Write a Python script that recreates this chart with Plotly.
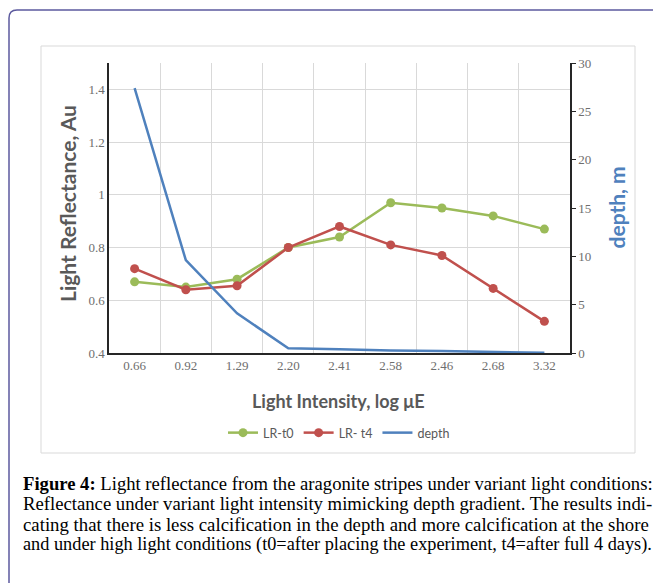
import plotly.graph_objects as go

# ---- data ----
categories = ["0.66", "0.92", "1.29", "2.20", "2.41", "2.58", "2.46", "2.68", "3.32"]
lr_t0 = [0.67, 0.65, 0.68, 0.80, 0.84, 0.97, 0.95, 0.92, 0.87]
lr_t4 = [0.72, 0.64, 0.655, 0.80, 0.88, 0.81, 0.77, 0.645, 0.52]
depth = [27.4, 9.6, 4.1, 0.5, 0.4, 0.25, 0.2, 0.1, 0.02]
left_ticks = [0.4, 0.6, 0.8, 1.0, 1.2, 1.4]
left_ticktext = ["0.4", "0.6", "0.8", "1", "1.2", "1.4"]
right_ticks = [0, 5, 10, 15, 20, 25, 30]

caption_lines = [
    "<b>Figure 4:</b> Light reflectance from the aragonite stripes under variant light conditions:",
    "Reflectance under variant light intensity mimicking depth gradient. The results indi-",
    "cating that there is less calcification in the depth and more calcification at the shore",
    "and under high light conditions (t0=after placing the experiment, t4=after full 4 days).",
]
caption_sizes = [18.65, 18.7, 18.8, 18.3]

GREEN = "#9bbb59"
RED = "#c0504d"
BLUE = "#4f81bd"
GRAY_TXT = "#595959"

OFF = 8  # page body margin
W, H = 661 - OFF, 583 - OFF
L, R, T, B = 109 - OFF, 91, 63 - OFF, 230
PW, PH = W - L - R, H - T - B


def px(x):
    return (x - OFF - L) / PW


def py(y):
    return (H - B - (y - OFF)) / PH


fig = go.Figure()
fig.add_trace(go.Scatter(x=categories, y=lr_t0, name="LR-t0", mode="lines+markers",
                         line=dict(color=GREEN, width=2.5), marker=dict(size=9, color=GREEN)))
fig.add_trace(go.Scatter(x=categories, y=lr_t4, name="LR- t4", mode="lines+markers",
                         line=dict(color=RED, width=2.5), marker=dict(size=9, color=RED)))
fig.add_trace(go.Scatter(x=categories, y=depth, name="depth", mode="lines", yaxis="y2",
                         line=dict(color=BLUE, width=2.5)))

tickfont = dict(family="Liberation Serif", size=13, color="#6e6e6e")

fig.update_layout(
    width=W, height=H,
    margin=dict(l=L, r=R, t=T, b=B),
    paper_bgcolor="white", plot_bgcolor="white",
    showlegend=True,
    legend=dict(orientation="h", x=px(339), y=py(433), xanchor="center", yanchor="middle",
                font=dict(family="Lato", size=12.5, color=GRAY_TXT), itemwidth=30,
                bgcolor="rgba(0,0,0,0)"),
    xaxis=dict(type="category", categoryorder="array", categoryarray=categories,
               range=[-0.5, len(categories) - 0.5], tickson="boundaries",
               showgrid=True, gridcolor="#d9d9d9", gridwidth=1,
               showline=True, linecolor="#262626", linewidth=1.5, ticks="",
               tickfont=tickfont, zeroline=False),
    yaxis=dict(range=[0.4, 1.5], tickvals=left_ticks, ticktext=left_ticktext,
               showgrid=True, gridcolor="#d9d9d9", gridwidth=1,
               showline=True, linecolor="#262626", linewidth=1.5, ticks="",
               tickfont=tickfont, zeroline=False),
    yaxis2=dict(range=[0, 30], tickvals=right_ticks, overlaying="y", side="right",
                showgrid=False, showline=True, linecolor="#262626", linewidth=1.5,
                ticks="outside", ticklen=4, tickcolor="#262626",
                tickfont=tickfont, zeroline=False),
)

# frames
r = 8
x0, y0 = 9, 10
path = (f"M {px(x0)},{py(H + 20)} L {px(x0)},{py(y0 + r)} "
        f"Q {px(x0)},{py(y0)} {px(x0 + r)},{py(y0)} L {px(W + 20)},{py(y0)}")
fig.add_shape(type="path", path=path, xref="paper", yref="paper",
              line=dict(color="#5c5a9e", width=1.5), layer="below")
fig.add_shape(type="rect", xref="paper", yref="paper",
              x0=px(41), x1=px(635), y0=py(46), y1=py(453),
              line=dict(color="#d9d9d9", width=1), layer="below")

# axis titles
fig.add_annotation(text="<b>Light Reflectance, Au</b>", textangle=-90,
                   x=px(67), y=py(204), xref="paper", yref="paper",
                   xanchor="center", yanchor="middle", showarrow=False,
                   font=dict(family="Lato", size=21, color=GRAY_TXT))
fig.add_annotation(text="<b>depth, m</b>", textangle=-90,
                   x=px(616), y=py(207.5), xref="paper", yref="paper",
                   xanchor="center", yanchor="middle", showarrow=False,
                   font=dict(family="Lato", size=21, color=BLUE))
fig.add_annotation(text="<b>Light Intensity, log μE</b>",
                   x=px(338), y=py(401), xref="paper", yref="paper",
                   xanchor="center", yanchor="middle", showarrow=False,
                   font=dict(family="Lato", size=18, color=GRAY_TXT))

# caption
for i, (line, fs) in enumerate(zip(caption_lines, caption_sizes)):
    fig.add_annotation(text=line, x=px(21), y=py(483 + i * 20.5), xref="paper", yref="paper",
                       xanchor="left", yanchor="middle", showarrow=False,
                       font=dict(family="Liberation Serif", size=fs, color="black"))

fig.write_html("out.html")
